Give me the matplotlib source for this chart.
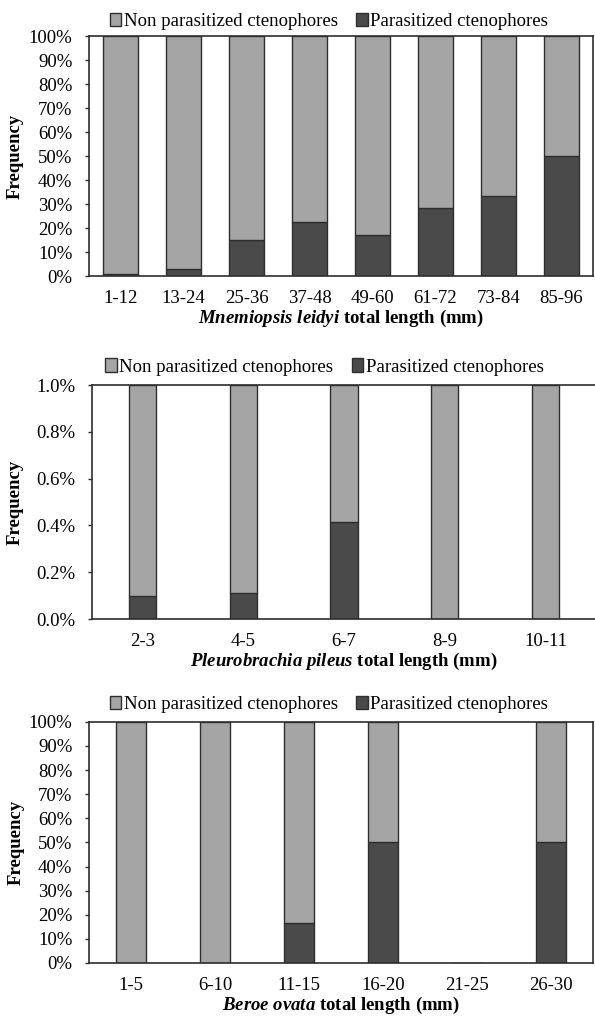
import matplotlib
matplotlib.use("Agg")
import matplotlib.pyplot as plt
from matplotlib.ticker import FuncFormatter
import numpy as np

plt.rcParams['font.family'] = ['Liberation Serif', 'DejaVu Serif']
plt.rcParams['mathtext.fontset'] = 'custom'
plt.rcParams['mathtext.it'] = 'Liberation Serif:bold:italic'
plt.rcParams['mathtext.rm'] = 'Liberation Serif:bold'

# Panel 1: Mnemiopsis leidyi (fractions of 1)
m_cats = ["1-12", "13-24", "25-36", "37-48", "49-60", "61-72", "73-84", "85-96"]
m_par = [0.008, 0.031, 0.152, 0.227, 0.171, 0.284, 0.333, 0.50]
m_non = [0.992, 0.969, 0.848, 0.773, 0.829, 0.716, 0.667, 0.50]

# Panel 2: Pleurobrachia pileus (axis shown in 0.0%-1.0%)
p_cats = ["2-3", "4-5", "6-7", "8-9", "10-11"]
p_par = [0.098, 0.112, 0.415, 0.0, 0.0]
p_non = [0.902, 0.888, 0.585, 1.0, 1.0]

# Panel 3: Beroe ovata
b_cats = ["1-5", "6-10", "11-15", "16-20", "21-25", "26-30"]
b_par = [0.0, 0.0, 0.167, 0.50, 0.0, 0.50]
b_non = [1.0, 1.0, 0.833, 0.50, 0.0, 0.50]

LIGHT = '#A5A5A5'
DARK = '#4A4A4A'
EDGE = '#2E2E2E'
FS = 13.5

fig = plt.figure(figsize=(5.95, 10.16), dpi=100)

def panel(rect, cats, par, non, width, ymax, yticks, fmt, xlabel, ylab_x, leg_x, leg_y):
    ax = fig.add_axes(rect)
    x = np.arange(len(cats))
    par = np.array(par) * ymax
    non = np.array(non) * ymax
    h_par = ax.bar(x, par, width=width, color=DARK, edgecolor=EDGE, linewidth=1.0,
                   label='Parasitized ctenophores', zorder=2)
    h_non = ax.bar(x, non, bottom=par, width=width, color=LIGHT, edgecolor=EDGE,
                   linewidth=1.0, label='Non parasitized ctenophores', zorder=2)
    ax.set_xlim(-0.5, len(cats) - 0.5)
    ax.set_ylim(0, ymax)
    ax.set_yticks(yticks)
    ax.yaxis.set_major_formatter(FuncFormatter(fmt))
    ax.set_xticks(x)
    ax.set_xticklabels(cats)
    ax.tick_params(axis='x', length=0, pad=10, labelsize=FS)
    ax.tick_params(axis='y', length=3, width=1, direction='out', pad=9, labelsize=FS, color=EDGE)
    for s in ax.spines.values():
        s.set_color(EDGE)
        s.set_linewidth(1.2)
    ax.set_ylabel('Frequency', fontsize=FS, fontweight='bold')
    ax.yaxis.set_label_coords(ylab_x, 0.5)
    ax.set_xlabel(xlabel, fontsize=FS, fontweight='bold', labelpad=1)
    ax.legend([h_non, h_par], ['Non parasitized ctenophores', 'Parasitized ctenophores'],
              loc='center', bbox_to_anchor=(leg_x, leg_y), ncol=2, frameon=False,
              fontsize=FS, handlelength=0.62, handleheight=0.7, handletextpad=0.12,
              columnspacing=1.0, borderaxespad=0.0, borderpad=0.1)
    return ax

pct0 = lambda v, p: f"{v:.0f}%"
pct1 = lambda v, p: f"{v:.1f}%"

panel([0.1496, 0.7283, 0.847, 0.2362], m_cats, m_par, m_non, 0.57, 100,
      np.arange(0, 101, 10), pct0,
      r'$\mathit{Mnemiopsis\ leidyi}$ total length (mm)', -0.129, 0.476, 1.06)
panel([0.1546, 0.3907, 0.8471, 0.2303], p_cats, p_par, p_non, 0.27, 1.0,
      np.arange(0, 1.01, 0.2), pct1,
      r'$\mathit{Pleurobrachia\ pileus}$ total length (mm)', -0.135, 0.461, 1.077)
panel([0.1496, 0.0522, 0.847, 0.2373], b_cats, b_par, b_non, 0.36, 100,
      np.arange(0, 101, 10), pct0,
      r'$\mathit{Beroe\ ovata}$ total length (mm)', -0.127, 0.476, 1.072)

fig.savefig('out.png', dpi=100)
